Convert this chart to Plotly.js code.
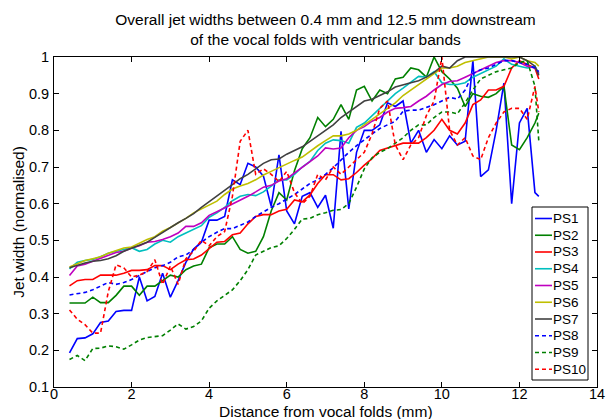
<!DOCTYPE html>
<html>
<head>
<meta charset="utf-8">
<script src="https://cdn.plot.ly/plotly-3.0.1.min.js"></script>
<style>html,body{margin:0;padding:0;background:#fff;}#chart{width:606px;height:419px;}</style>
</head>
<body>
<div id="chart"></div>
<script>
const distance = [0.4,0.6,0.8,1.0,1.2,1.4,1.6,1.8,2.0,2.2,2.4,2.6,2.8,3.0,3.2,3.4,3.6,
  3.8,4.0,4.2,4.4,4.6,4.8,5.0,5.2,5.4,5.6,5.8,6.0,6.2,6.4,6.6,6.8,7.0,7.2,
  7.4,7.6,7.8,8.0,8.2,8.4,8.6,8.8,9.0,9.2,9.4,9.6,9.8,10.0,10.2,10.4,10.6,10.8,11.0,11.2,11.4,11.6,11.8,12.0,12.2,12.4,12.5];

const ps1 = [0.193,0.232,0.234,0.245,0.276,0.28,0.306,0.309,0.309,0.40,0.335,0.347,0.41,0.345,0.39,0.44,0.476,
  0.495,0.555,0.555,0.565,0.665,0.652,0.71,0.70,0.675,0.593,0.733,0.58,0.545,0.62,0.63,0.59,0.623,0.533,
  0.797,0.586,0.74,0.80,0.80,0.815,0.875,0.865,0.88,0.765,0.80,0.74,0.775,0.75,0.785,0.76,0.77,0.99,0.674,0.692,0.80,0.929,0.60,0.82,0.86,0.63,0.62];
const ps2 = [0.329,0.329,0.329,0.345,0.33,0.33,0.35,0.375,0.375,0.35,0.375,0.375,0.39,0.405,0.40,0.42,0.43,
  0.435,0.48,0.49,0.49,0.51,0.475,0.465,0.47,0.51,0.58,0.63,0.61,0.69,0.75,0.78,0.835,0.81,0.83,
  0.87,0.83,0.91,0.92,0.88,0.91,0.90,0.94,0.945,0.97,0.965,0.945,1.0,0.96,0.94,0.915,0.865,0.90,0.893,0.89,0.90,0.92,0.76,0.747,0.78,0.82,0.847];
const ps3 = [0.376,0.39,0.393,0.393,0.405,0.405,0.405,0.41,0.418,0.418,0.42,0.431,0.431,0.42,0.435,0.447,0.449,
  0.46,0.477,0.495,0.497,0.515,0.52,0.545,0.565,0.57,0.57,0.58,0.585,0.61,0.605,0.624,0.655,0.679,0.679,
  0.665,0.668,0.685,0.705,0.723,0.745,0.752,0.76,0.765,0.765,0.765,0.78,0.80,0.83,0.80,0.79,0.82,0.87,0.883,0.91,0.91,0.92,0.97,0.99,0.98,0.97,0.94];
const ps4 = [0.422,0.44,0.445,0.448,0.455,0.465,0.47,0.475,0.48,0.47,0.475,0.49,0.50,0.495,0.51,0.52,0.53,
  0.54,0.563,0.575,0.59,0.608,0.62,0.625,0.622,0.632,0.648,0.665,0.665,0.68,0.70,0.715,0.745,0.765,0.774,
  0.772,0.765,0.808,0.82,0.84,0.86,0.88,0.90,0.915,0.93,0.947,0.945,0.96,0.93,0.925,0.925,0.93,0.945,0.955,0.965,0.975,0.995,0.98,0.975,0.97,0.975,0.955];
const ps5 = [0.404,0.43,0.435,0.443,0.45,0.458,0.467,0.47,0.479,0.485,0.495,0.497,0.502,0.51,0.52,0.538,0.538,
  0.548,0.568,0.578,0.588,0.60,0.61,0.62,0.632,0.645,0.65,0.662,0.668,0.683,0.70,0.715,0.73,0.752,0.749,
  0.752,0.78,0.80,0.81,0.825,0.835,0.85,0.86,0.862,0.865,0.88,0.893,0.91,0.925,0.933,0.935,0.945,0.955,0.965,0.975,0.985,0.99,0.99,0.985,0.975,0.97,0.955];
const ps6 = [0.427,0.437,0.445,0.45,0.455,0.465,0.472,0.479,0.482,0.493,0.502,0.51,0.525,0.535,0.547,0.56,0.575,
  0.585,0.595,0.607,0.625,0.64,0.648,0.655,0.665,0.678,0.688,0.698,0.71,0.718,0.727,0.743,0.758,0.772,0.785,
  0.785,0.79,0.80,0.815,0.83,0.845,0.86,0.875,0.895,0.91,0.925,0.94,0.955,0.97,0.97,0.975,0.985,0.99,0.995,1.0,1.0,1.0,0.995,1.0,0.99,0.985,0.975];
const ps7 = [0.425,0.432,0.438,0.443,0.445,0.45,0.458,0.47,0.479,0.486,0.495,0.508,0.522,0.535,0.548,0.56,0.573,
  0.59,0.605,0.62,0.636,0.652,0.668,0.68,0.695,0.71,0.72,0.722,0.735,0.745,0.755,0.77,0.785,0.80,0.815,
  0.835,0.85,0.865,0.88,0.885,0.895,0.905,0.918,0.925,0.93,0.935,0.945,0.958,0.975,0.97,0.99,1.0,1.0,1.0,1.0,1.0,1.0,1.0,1.0,0.99,0.975,0.95];
const ps8 = [0.351,0.355,0.358,0.365,0.375,0.385,0.38,0.385,0.393,0.405,0.415,0.425,0.431,0.44,0.455,0.46,0.475,
  0.495,0.51,0.522,0.532,0.532,0.54,0.55,0.565,0.578,0.59,0.60,0.612,0.625,0.64,0.655,0.665,0.68,0.698,
  0.72,0.74,0.758,0.775,0.79,0.805,0.815,0.825,0.852,0.855,0.855,0.862,0.87,0.88,0.89,0.885,0.91,0.955,0.965,0.97,0.98,0.99,0.99,0.985,0.98,0.97,0.96];
const ps9 = [0.175,0.186,0.172,0.205,0.206,0.212,0.21,0.203,0.215,0.228,0.235,0.238,0.24,0.255,0.272,0.258,0.265,
  0.28,0.315,0.335,0.35,0.365,0.39,0.42,0.46,0.47,0.48,0.485,0.505,0.53,0.558,0.56,0.57,0.575,0.582,
  0.584,0.60,0.645,0.695,0.725,0.74,0.75,0.765,0.78,0.80,0.815,0.815,0.835,0.85,0.85,0.845,0.875,0.91,0.94,0.95,0.96,0.965,0.97,0.985,0.99,0.92,0.77];
const ps10 = [0.31,0.285,0.27,0.247,0.247,0.36,0.433,0.425,0.40,0.405,0.415,0.447,0.38,0.43,0.38,0.45,0.47,
  0.50,0.485,0.51,0.524,0.62,0.77,0.80,0.68,0.695,0.68,0.66,0.688,0.63,0.60,0.62,0.68,0.665,0.70,
  0.68,0.70,0.72,0.74,0.79,0.86,0.88,0.76,0.72,0.76,0.78,0.84,0.88,1.0,0.80,0.76,0.78,0.73,0.72,0.78,0.82,0.85,0.86,0.86,0.83,0.92,0.85];

const seriesNames = ['PS1','PS2','PS3','PS4','PS5','PS6','PS7','PS8','PS9','PS10'];
const seriesValues = [ps1,ps2,ps3,ps4,ps5,ps6,ps7,ps8,ps9,ps10];
const seriesColors = ['#0000ff','#008000','#ff0000','#00bfbf','#bf00bf','#bfbf00','#404040','#0000ff','#008000','#ff0000'];
const seriesDash = ['solid','solid','solid','solid','solid','solid','solid','4px,3px','4px,3px','4px,3px'];

const xTicks = [0,2,4,6,8,10,12,14];
const yTicks = [0.1,0.2,0.3,0.4,0.5,0.6,0.7,0.8,0.9,1];
const yTickText = ['0.1','0.2','0.3','0.4','0.5','0.6','0.7','0.8','0.9','1'];

const font = 'Liberation Sans, Arial, Helvetica, sans-serif';

// plot-area geometry in pixels (used for the MATLAB-style legend box and x label)
const W = 606, H = 419, L = 54, R = 9, T = 57, B = 32;
const pw = W - L - R, ph = H - T - B;
const px = v => (v - L) / pw;          // pixel -> paper x
const py = v => (H - B - v) / ph;      // pixel -> paper y

const traces = seriesNames.map((n,i)=>({
  x: distance, y: seriesValues[i], name: n, type:'scatter', mode:'lines',
  line:{color:seriesColors[i], width:1.6, dash:seriesDash[i]}, showlegend:false
}));

const shapes = [{type:'rect', xref:'paper', yref:'paper', x0:px(532), x1:px(588), y0:py(380), y1:py(207),
  fillcolor:'#fff', line:{color:'#000', width:1}, layer:'above'}];
const annotations = [];
seriesNames.forEach((n,i)=>{
  const yc = 218.5 + i*16.75;
  shapes.push({type:'line', xref:'paper', yref:'paper', x0:px(535), x1:px(552), y0:py(yc), y1:py(yc),
    line:{color:seriesColors[i], width:1.6, dash:seriesDash[i]}, layer:'above'});
  annotations.push({xref:'paper', yref:'paper', x:px(552), y:py(yc), xanchor:'left', yanchor:'middle',
    text:n, showarrow:false, borderpad:0, font:{family:font, size:13.5, color:'#000'}});
});
annotations.push({xref:'paper', yref:'paper', x:0.5, y:py(411.5), xanchor:'center', yanchor:'middle',
  text:'Distance from vocal folds (mm)', showarrow:false, borderpad:0, font:{family:font, size:15.5, color:'#000'}});

const axisCommon = {
  showline:true, linecolor:'#000', linewidth:1, mirror:'ticks',
  ticks:'inside', ticklen:5, tickwidth:1, tickcolor:'#000',
  showgrid:false, zeroline:false, tickfont:{family:font,size:14.5,color:'#000'}
};

const layout = {
  width:W, height:H,
  margin:{l:L, r:R, t:T, b:B, pad:0},
  paper_bgcolor:'#fff', plot_bgcolor:'#fff',
  font:{family:font, color:'#000'},
  title:{text:'Overall jet widths between 0.4 mm and 12.5 mm downstream<br>of the vocal folds with ventricular bands',
    font:{family:font,size:15.5,color:'#000'}, xref:'paper', x:0.5, xanchor:'center', yref:'container', y:0.94, yanchor:'top'},
  xaxis: Object.assign({}, axisCommon, {range:[0,14], tickvals:xTicks, ticktext:xTicks.map(String), ticklabelstandoff:-6}),
  yaxis: Object.assign({}, axisCommon, {range:[0.1,1], tickvals:yTicks, ticktext:yTickText, ticklabelstandoff:1,
    title:{text:'Jet width (normalised)', font:{family:font,size:15.5,color:'#000'}, standoff:0}}),
  showlegend:false,
  shapes: shapes,
  annotations: annotations
};

Plotly.newPlot('chart', traces, layout, {staticPlot:true, displayModeBar:false});
</script>
</body>
</html>
